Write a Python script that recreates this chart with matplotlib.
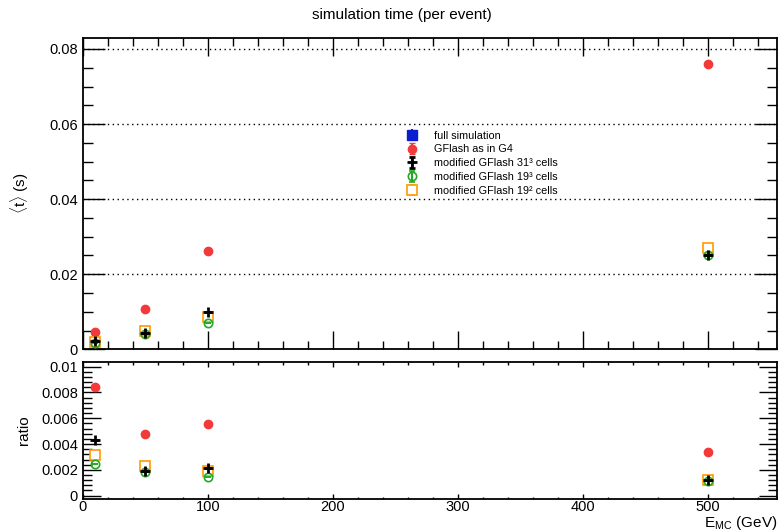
import matplotlib
matplotlib.use('Agg')
import matplotlib.pyplot as plt
from matplotlib.ticker import MultipleLocator
import numpy as np

plt.rcParams.update({
    'font.family': ['Liberation Sans', 'DejaVu Sans'],
    'font.size': 10.5,
    'mathtext.fontset': 'custom',
    'mathtext.rm': 'Liberation Sans',
})

# ── data ──
energy = [10, 50, 100, 500]          # GeV
t_full = []                          # full simulation: off-scale, legend only
t_gflash = [0.0046, 0.0106, 0.0261, 0.0760]
t_mod31c = [0.0023, 0.0043, 0.0100, 0.0251]
t_mod19c = [0.0016, 0.0041, 0.0069, 0.0252]
t_mod19s = [0.0019, 0.0050, 0.0085, 0.0271]

r_gflash = [0.00843, 0.00477, 0.00559, 0.00338]
r_mod31c = [0.00433, 0.00188, 0.00217, 0.00119]
r_mod19c = [0.00247, 0.00180, 0.00145, 0.00117]
r_mod19s = [0.00312, 0.00232, 0.00188, 0.00121]

labels = ['full simulation', 'GFlash as in G4', 'modified GFlash 31³ cells',
          'modified GFlash 19³ cells', 'modified GFlash 19² cells']

BLUE = '#0a1ecf'
RED = '#f23a3a'
BLACK = '#000000'
GREEN = '#22aa22'
ORANGE = '#ff9900'

# style + drawing order (black plus sits on top, as in the reference)
styles = [
    dict(color=BLUE, marker='s', ms=6.5, mfc=BLUE, zorder=3),
    dict(color=RED, marker='o', ms=6, mfc=RED, mec=RED, zorder=4),
    dict(color=BLACK, marker='+', ms=7.5, mew=2, zorder=7),
    dict(color=GREEN, marker='o', ms=6, mfc='none', mec=GREEN, mew=1.2, zorder=6),
    dict(color=ORANGE, marker='s', ms=6.5, mfc='white', mec=ORANGE, mew=1.2, zorder=5),
]

fig = plt.figure(figsize=(7.79, 5.31), dpi=100)
ax1 = fig.add_axes([0.1062, 0.3422, 0.8912, 0.5868])
ax2 = fig.add_axes([0.1062, 0.0603, 0.8912, 0.2580])

top_series = [t_full, t_gflash, t_mod31c, t_mod19c, t_mod19s]
bot_series = [[], r_gflash, r_mod31c, r_mod19c, r_mod19s]

handles = []
for ys, st, lab in zip(top_series, styles, labels):
    xs = energy[:len(ys)]
    h = ax1.errorbar(xs, ys, yerr=np.zeros(len(ys)), ls='none', capsize=2,
                     elinewidth=1.5, label=lab, **st)
    handles.append(h)
for ys, st in zip(bot_series, styles):
    if not ys:
        continue
    ax2.errorbar(energy[:len(ys)], ys, yerr=np.zeros(len(ys)), ls='none',
                 capsize=2, elinewidth=1.5, **st)

ax1.set_xlim(0, 555)
ax1.set_ylim(0, 0.083)
ax2.set_xlim(0, 555)
ax2.set_ylim(-0.00026, 0.01036)

ax1.yaxis.set_major_locator(MultipleLocator(0.02))
ax1.yaxis.set_minor_locator(MultipleLocator(0.005))
ax1.yaxis.set_major_formatter(plt.FuncFormatter(lambda v, p: '0' if v == 0 else f'{v:.2f}'))
ax2.yaxis.set_major_locator(MultipleLocator(0.002))
ax2.yaxis.set_minor_locator(MultipleLocator(0.0004))
ax2.yaxis.set_major_formatter(plt.FuncFormatter(
    lambda v, p: '0' if abs(v) < 1e-9 else ('0.01' if abs(v - 0.01) < 1e-9 else f'{v:.3f}')))
for ax in (ax1, ax2):
    ax.xaxis.set_major_locator(MultipleLocator(100))
    ax.xaxis.set_minor_locator(MultipleLocator(20))
    for s in ax.spines.values():
        s.set_linewidth(1.3)

ax1.tick_params(axis='y', which='major', direction='in', left=True, right=True, length=15.5, width=1)
ax1.tick_params(axis='y', which='minor', direction='in', left=True, right=True, length=7.5, width=1)
ax1.tick_params(axis='x', which='major', direction='in', top=True, bottom=True, length=13, width=1, labelbottom=False)
ax1.tick_params(axis='x', which='minor', direction='in', top=True, bottom=True, length=6, width=1)
ax2.tick_params(axis='y', which='major', direction='in', left=True, right=True, length=13, width=1)
ax2.tick_params(axis='y', which='minor', direction='in', left=True, right=True, length=6.5, width=1)
ax2.tick_params(axis='x', which='major', direction='in', top=True, bottom=True, length=3.6, width=1, pad=1)
ax2.tick_params(axis='x', which='minor', direction='in', top=True, bottom=True, length=1.8, width=1)

ax1.yaxis.grid(True, which='major', color='black', linestyle=(0, (1, 2.5)), linewidth=1)

ax1.set_ylabel(r'$\langle$t$\rangle$ (s)', fontsize=11)
ax1.yaxis.set_label_coords(-0.075, 0.5)
ax2.set_ylabel('ratio', fontsize=11)
ax2.yaxis.set_label_coords(-0.075, 0.5)
ax2.set_xlabel(r'E$_{\mathrm{MC}}$ (GeV)', fontsize=11, loc='right', labelpad=-0.5)

fig.text(0.5157, 0.972, 'simulation time (per event)', ha='center', va='center', fontsize=11)

ax1.legend(handles=handles, loc='upper left', bbox_to_anchor=(398 / 779, 1 - 123 / 531),
           bbox_transform=fig.transFigure, frameon=False, fontsize=7.8,
           handlelength=1.2, handletextpad=1.4, labelspacing=0.35, borderpad=0.2)

fig.savefig('out.png', dpi=100)
